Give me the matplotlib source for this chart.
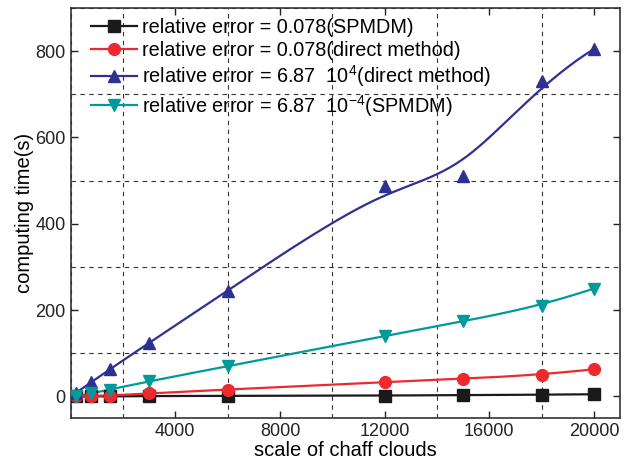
import numpy as np
import matplotlib.pyplot as plt
from matplotlib.ticker import MultipleLocator

plt.rcParams['font.family'] = ['Liberation Sans', 'DejaVu Sans']
plt.rcParams['mathtext.fontset'] = 'custom'
plt.rcParams['mathtext.rm'] = 'Liberation Sans'
plt.rcParams['mathtext.it'] = 'Liberation Sans:italic'

# scale of chaff clouds
scale = [200, 800, 1500, 3000, 6000, 12000, 15000, 18000, 20000]

# computing time (s)
t_spmdm_078 = [0, 0, 0, 1, 1, 2, 3, 4, 5]
t_direct_078 = [0, 1, 2, 7, 16, 33, 41, 50, 63]
t_direct_687 = [8, 33, 63, 124, 245, 488, 510, 730, 805]
t_spmdm_687 = [0, 7, 16, 35, 70, 140, 174, 210, 250]

labels = [
    "relative error = 0.078(SPMDM)",
    "relative error = 0.078(direct method)",
    "relative error = 6.87  10$^{4}$(direct method)",
    "relative error = 6.87  10$^{-4}$(SPMDM)",
]


def bspline(px, py, npts=300, k=3):
    # clamped uniform cubic B-spline using the points as control polygon
    P = np.column_stack([px, py]).astype(float)
    n = len(P) - 1
    knots = np.concatenate([np.zeros(k), np.arange(n - k + 2), np.full(k, n - k + 1)]).astype(float)
    u = np.linspace(0, knots[-1], npts)
    u[-1] -= 1e-9
    N = np.zeros((npts, len(knots) - 1))
    for i in range(len(knots) - 1):
        N[:, i] = (knots[i] <= u) & (u < knots[i + 1])
    for d in range(1, k + 1):
        Nn = np.zeros((npts, len(knots) - 1 - d))
        for i in range(len(knots) - 1 - d):
            a = knots[i + d] - knots[i]
            b = knots[i + d + 1] - knots[i + 1]
            t1 = (u - knots[i]) / a * N[:, i] if a > 0 else 0
            t2 = (knots[i + d + 1] - u) / b * N[:, i + 1] if b > 0 else 0
            Nn[:, i] = t1 + t2
        N = Nn
    C = N @ P
    return C[:, 0], C[:, 1]


fig = plt.figure(figsize=(6.24, 4.66), dpi=100)
ax = fig.add_axes([0.113, 0.103, 0.881, 0.880])

series = [
    (t_spmdm_078, "#1a1a1a", "s"),
    (t_direct_078, "#ec2a2e", "o"),
    (t_direct_687, "#2e3192", "^"),
    (t_spmdm_687, "#009a9a", "v"),
]
for (vals, col, mk), lab in zip(series, labels):
    cx, cy = bspline(scale, vals)
    ax.plot(cx, cy, color=col, lw=1.6, zorder=3)
    ax.plot(scale, vals, ls="none", marker=mk, ms=8.5, color=col, zorder=4)
    ax.plot([], [], color=col, lw=1.6, marker=mk, ms=8.5, label=lab)

ax.set_xlim(0, 21000)
ax.set_ylim(-50, 900)
ax.set_xticks([4000, 8000, 12000, 16000, 20000])
ax.xaxis.set_minor_locator(MultipleLocator(2000))
ax.set_yticks([0, 200, 400, 600, 800])
ax.yaxis.set_minor_locator(MultipleLocator(100))
ax.tick_params(which="major", direction="in", length=5, width=1, top=True, right=True,
               labelsize=13, colors="#222222")
ax.tick_params(which="minor", length=0)
ax.grid(which="minor", ls=(0, (4, 4)), color="#333333", lw=0.8)
for sp in ax.spines.values():
    sp.set_linewidth(1.2)
    sp.set_color("#333333")

ax.set_xlabel("scale of chaff clouds", fontsize=14.5, labelpad=1)
ax.set_ylabel("computing time(s)", fontsize=14.5, labelpad=1)

ax.legend(loc="upper left", frameon=False, fontsize=14.3, handlelength=2.3,
          borderaxespad=0.0, borderpad=0.3, labelspacing=0.18, handletextpad=0.25,
          bbox_to_anchor=(0.027, 0.99))

fig.savefig("out.png", dpi=100)
